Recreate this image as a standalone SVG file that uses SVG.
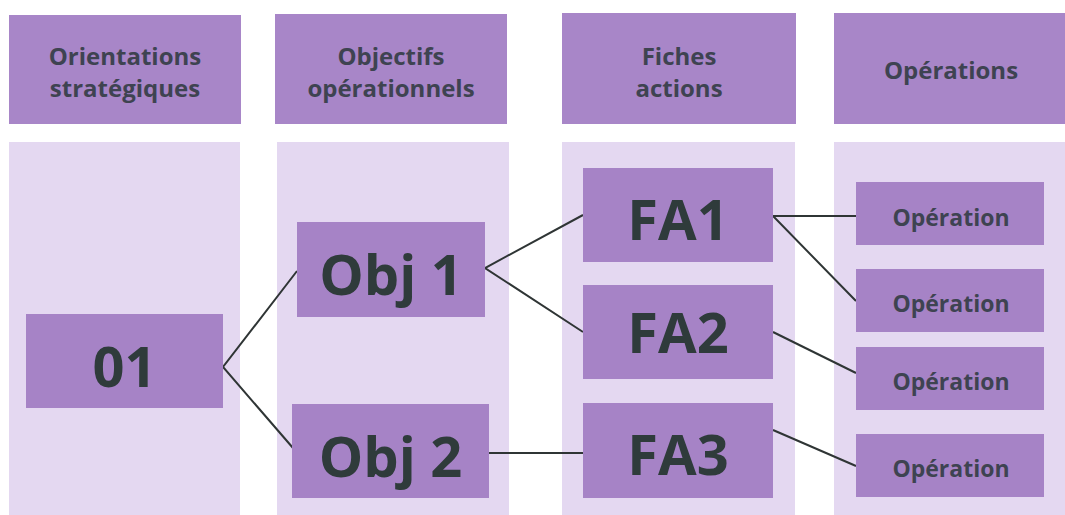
<svg xmlns="http://www.w3.org/2000/svg" width="1065" height="515" viewBox="0 0 1065 515">
<style>
.bg{fill:#ffffff}
.col{fill:#e4d8f1}
.hdr{fill:#a886c8}
.node{fill:#a683c6}
.ht{font-family:"Open Sans","Liberation Sans",sans-serif;font-weight:700;font-size:24px;fill:#3e4351;text-anchor:middle}
.big{font-family:"Open Sans","Liberation Sans",sans-serif;font-weight:700;font-size:56px;fill:#2f3b3b;text-anchor:middle}
.op{font-family:"Open Sans","Liberation Sans",sans-serif;font-weight:700;font-size:23px;fill:#3e4351;text-anchor:middle}
.link{stroke:#2f3535;stroke-width:2;fill:none}
</style>
<rect class="bg" x="0" y="0" width="1065" height="515"/>
<g id="columns">
<rect class="col" x="9" y="142" width="231" height="373"/>
<rect class="col" x="277" y="142" width="232" height="373"/>
<rect class="col" x="562" y="142" width="233" height="373"/>
<rect class="col" x="834" y="142" width="231" height="373"/>
</g>
<g id="header-orientations">
<rect class="hdr" x="9" y="15" width="232" height="109"/>
<text class="ht" x="125" y="65">Orientations</text>
<text class="ht" x="125" y="97">stratégiques</text>
</g>
<g id="header-objectifs">
<rect class="hdr" x="275" y="14" width="232" height="110"/>
<text class="ht" x="391" y="65">Objectifs</text>
<text class="ht" x="391" y="97">opérationnels</text>
</g>
<g id="header-fiches">
<rect class="hdr" x="562" y="13" width="234" height="111"/>
<text class="ht" x="679" y="65">Fiches</text>
<text class="ht" x="679" y="97">actions</text>
</g>
<g id="header-operations">
<rect class="hdr" x="834" y="13" width="231" height="111"/>
<text class="ht" x="951" y="79">Opérations</text>
</g>
<g id="connectors">
<polyline class="link" points="297,271 223,367 293,448"/>
<polyline class="link" points="583,215 485,268 583,332"/>
<line class="link" x1="489" y1="453" x2="583" y2="453"/>
<polyline class="link" points="856,216 773,216 856,301"/>
<line class="link" x1="773" y1="332" x2="856" y2="373"/>
<line class="link" x1="773" y1="430" x2="856" y2="466"/>
</g>
<g id="node-o1">
<rect class="node" x="26" y="314" width="197" height="94"/>
<text class="big" x="124.5" y="387">01</text>
</g>
<g id="node-obj1">
<rect class="node" x="297" y="222" width="188" height="95"/>
<text class="big" x="391" y="295">Obj 1</text>
</g>
<g id="node-obj2">
<rect class="node" x="292" y="404" width="197" height="94"/>
<text class="big" x="390.5" y="477">Obj 2</text>
</g>
<g id="node-fa1">
<rect class="node" x="583" y="168" width="190" height="94"/>
<text class="big" x="678" y="240">FA1</text>
</g>
<g id="node-fa2">
<rect class="node" x="583" y="285" width="190" height="94"/>
<text class="big" x="678" y="353">FA2</text>
</g>
<g id="node-fa3">
<rect class="node" x="583" y="403" width="190" height="95"/>
<text class="big" x="678" y="475">FA3</text>
</g>
<g id="node-op1">
<rect class="node" x="856" y="182" width="188" height="63"/>
<text class="op" x="951" y="226">Opération</text>
</g>
<g id="node-op2">
<rect class="node" x="856" y="269" width="188" height="63"/>
<text class="op" x="951" y="312">Opération</text>
</g>
<g id="node-op3">
<rect class="node" x="856" y="347" width="188" height="63"/>
<text class="op" x="951" y="390">Opération</text>
</g>
<g id="node-op4">
<rect class="node" x="856" y="434" width="188" height="63"/>
<text class="op" x="951" y="477">Opération</text>
</g>
</svg>
